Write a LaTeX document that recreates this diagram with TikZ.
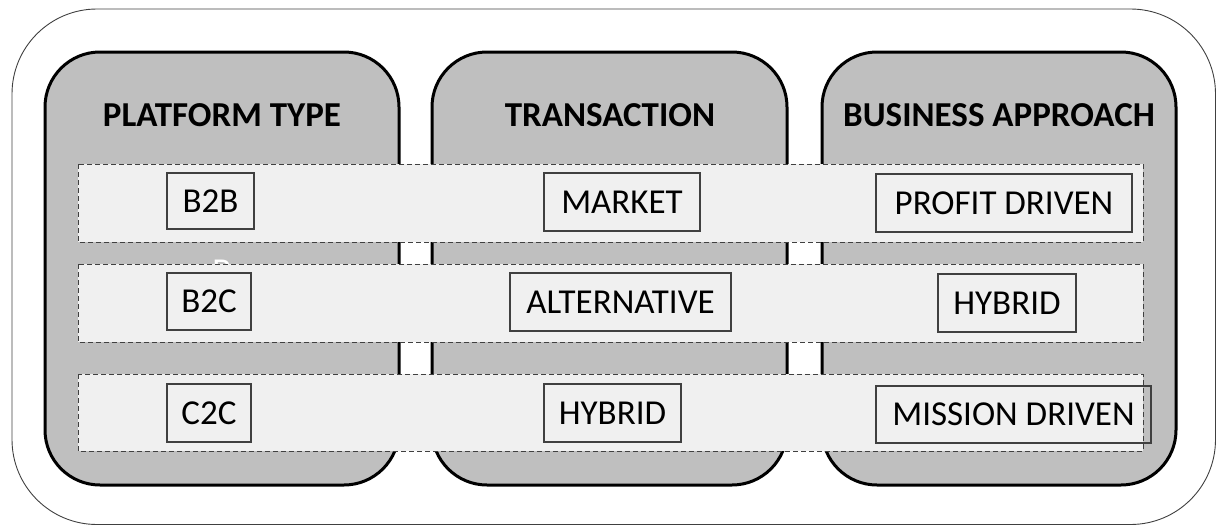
\documentclass[tikz,border=0pt]{standalone}
\usepackage{fontspec}
\setmainfont{Carlito}
\begin{document}
\begin{tikzpicture}[x=1pt,y=-1pt,
  frame/.style={draw=black!75,line width=0.9pt,rounded corners=85pt},
  panel/.style={draw=black,line width=3pt,fill=panelgray,rounded corners=55pt},
  band/.style={draw=black!75,line width=0.9pt,dash pattern=on 5pt off 3pt,fill=bandgray},
  head/.style={font=\fontsize{35}{38}\selectfont\bfseries,text=black,inner sep=0pt},
  item/.style={draw=black!75,line width=1.2pt,font=\fontsize{35}{38}\selectfont,text=black,inner sep=0pt,anchor=center}
]
\definecolor{panelgray}{HTML}{BFBFBF}
\definecolor{bandgray}{HTML}{F0F0F0}
\useasboundingbox (0,0) rectangle (1216,525);

% outer frame
\draw[frame] (12,9) rectangle (1215.5,524.5);

% three category panels
\draw[panel] (45,52) rectangle (399,485);
\draw[panel] (432,52) rectangle (787,485);
\draw[panel] (822,52) rectangle (1176,485);

\node[head] (hPlat) at (222,115) {PLATFORM TYPE};
\node[head] (hTrans) at (610,115) {TRANSACTION};
\node[head] (hBiz) at (999,115) {BUSINESS APPROACH};

% leftover label mostly hidden under the middle band
\node[font=\fontsize{35}{38}\selectfont,text=white,inner sep=0pt,anchor=base] (hidden) at (222,282) {B};

% dashed row bands
\draw[band] (78,164) rectangle (1143,242);
\draw[band] (78,264) rectangle (1143,342);
\draw[band] (78,374) rectangle (1143,451);

% row 1
\node[item,minimum width=87pt,minimum height=56pt] (b2b) at (210.5,201) {B2B};
\node[item,minimum width=156pt,minimum height=58pt] (market) at (622,202) {MARKET};
\node[item,minimum width=256pt,minimum height=58pt] (profit) at (1004,203) {PROFIT DRIVEN};

% row 2
\node[item,minimum width=84pt,minimum height=57pt] (b2c) at (209,301.5) {B2C};
\node[item,minimum width=221pt,minimum height=58pt] (alt) at (620.5,302) {ALTERNATIVE};
\node[item,minimum width=138pt,minimum height=58pt] (hyb2) at (1007,303) {HYBRID};

% row 3
\node[item,minimum width=84pt,minimum height=58pt] (c2c) at (209,413) {C2C};
\node[item,minimum width=137pt,minimum height=58pt] (hyb1) at (612.5,413) {HYBRID};
\node[item,minimum width=275pt,minimum height=57pt] (mission) at (1013.5,414.5) {MISSION DRIVEN};
\end{tikzpicture}
\end{document}
